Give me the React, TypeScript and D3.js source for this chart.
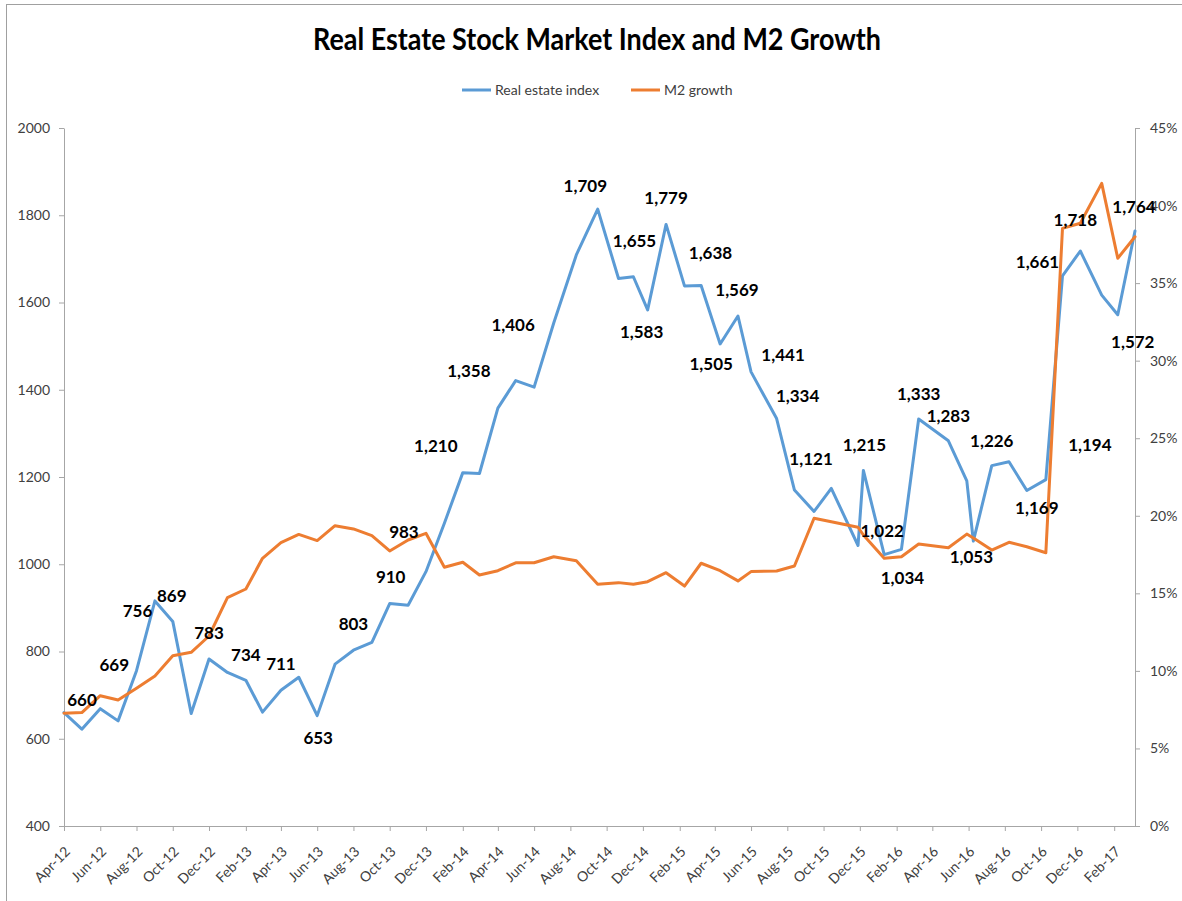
import * as d3 from "d3";
import { useEffect, useRef } from "react";

// observation dates (Excel date axis, days base unit)
const dates = [
  "2012-04-01", "2012-05-01", "2012-06-01", "2012-07-01", "2012-08-01", "2012-09-01",
  "2012-10-01", "2012-11-01", "2012-12-01", "2013-01-01", "2013-02-01", "2013-03-01",
  "2013-04-01", "2013-05-01", "2013-06-01", "2013-07-01", "2013-08-01", "2013-09-01",
  "2013-10-01", "2013-11-01", "2013-12-01", "2014-01-01", "2014-02-01", "2014-03-01",
  "2014-04-01", "2014-05-01", "2014-06-01", "2014-07-04", "2014-08-11", "2014-09-16",
  "2014-10-21", "2014-11-15", "2014-12-09", "2015-01-09", "2015-02-09", "2015-03-09",
  "2015-04-10", "2015-05-10", "2015-06-01", "2015-07-14", "2015-08-13", "2015-09-15",
  "2015-10-14", "2015-11-28", "2015-12-07", "2016-01-11", "2016-02-09", "2016-03-09",
  "2016-04-28", "2016-05-29", "2016-06-09", "2016-07-10", "2016-08-08", "2016-09-07",
  "2016-10-09", "2016-11-06", "2016-12-06", "2017-01-11", "2017-02-07", "2017-03-08",
];

const realEstate = [
  660, 622, 669, 641, 756, 916, 869, 658, 783, 752, 734, 661,
  711, 741, 653, 771, 803, 821, 910, 906, 983, 1094, 1210, 1208,
  1358, 1421, 1406, 1553, 1709, 1814, 1655, 1659, 1583, 1779, 1638, 1639,
  1505, 1569, 1441, 1334, 1170, 1121, 1174, 1043, 1215, 1022, 1034, 1333,
  1283, 1191, 1053, 1226, 1235, 1169, 1194, 1661, 1718, 1617, 1572, 1764,
];

// M2 growth, percent
const m2Growth = [
  7.27, 7.31, 8.4, 8.12, 8.88, 9.67, 10.98, 11.2, 12.25, 14.72, 15.28, 17.26,
  18.27, 18.8, 18.4, 19.36, 19.15, 18.72, 17.73, 18.44, 18.87, 16.68, 17.0, 16.18,
  16.46, 16.97, 16.97, 17.36, 17.1, 15.58, 15.69, 15.58, 15.75, 16.33, 15.47, 16.94,
  16.46, 15.8, 16.4, 16.44, 16.76, 19.84, 19.62, 19.26, 18.76, 17.26, 17.36, 18.18,
  17.94, 18.82, 18.57, 17.79, 18.29, 18.0, 17.62, 38.53, 38.86, 41.43, 36.6, 37.99,
];

// which points carry a data label, and how far each label was dragged
const labeledPoints = [
  0, 2, 4, 6, 8, 10, 12, 14, 16, 18, 20, 22, 24, 26, 28, 30, 32, 33, 34,
  36, 37, 38, 39, 41, 44, 45, 46, 47, 48, 50, 51, 53, 54, 55, 56, 58, 59,
];
const labelShift = [
  [18, -13], [14, -44], [1, -60], [-1, -25], [0, -26], [0, -25], [0, -26], [1, 22],
  [0, -26], [1, -26], [-22, -40], [-27, -27], [-29, -37], [-21, -62], [9, -69],
  [16, -37], [-6, 22], [0, -26], [26, -33], [-9, 20], [-1, -26], [32, -17], [21, -22],
  [-3, -52], [1, -25], [-2, -24], [1, 29], [0, -25], [0, -25], [-2, 16], [0, -25],
  [10, 18], [44, -35], [-25, -14], [-5, -31], [15, 27], [-1, -24],
];

const leftTicks = [400, 600, 800, 1000, 1200, 1400, 1600, 1800, 2000];
const rightTicks = [0, 5, 10, 15, 20, 25, 30, 35, 40, 45];

const BLUE = "#5B9BD5";
const ORANGE = "#ED7D31";
const AXIS = "#a6a6a6";
const TEXT = "#404040";
const FONT = "Lato, 'Open Sans', sans-serif";

const App = () => {
  const ref = useRef<SVGSVGElement>(null);
  const width = 1182;
  const height = 901;

  useEffect(() => {
    const svg = d3.select(ref.current);
    svg.selectAll("*").remove();

    const left = 64, right = 1135, top = 128, bottom = 826;
    const parse = d3.timeParse("%Y-%m-%d");
    const when = dates.map((d) => parse(d) as Date);

    const x = d3.scaleTime().domain([when[0], when[when.length - 1]]).range([left, right]);
    const yL = d3.scaleLinear().domain([400, 2000]).range([bottom, top]);
    const yR = d3.scaleLinear().domain([0, 45]).range([bottom, top]);

    // chart border
    svg.append("rect")
      .attr("x", 6.5).attr("y", 4.5)
      .attr("width", 1300).attr("height", 1000)
      .attr("fill", "#fff").attr("stroke", "#a0a0a0");

    // title
    svg.append("text")
      .attr("x", 597).attr("y", 50)
      .attr("text-anchor", "middle")
      .attr("textLength", 568).attr("lengthAdjust", "spacingAndGlyphs")
      .style("font-family", FONT).style("font-weight", 700).style("font-size", "30px")
      .attr("fill", "#000")
      .text("Real Estate Stock Market Index and M2 Growth");

    // legend
    const legend = [
      { name: "Real estate index", color: BLUE, x0: 462 },
      { name: "M2 growth", color: ORANGE, x0: 631 },
    ];
    const lg = svg.append("g");
    legend.forEach((l) => {
      lg.append("line")
        .attr("x1", l.x0).attr("x2", l.x0 + 29).attr("y1", 90).attr("y2", 90)
        .attr("stroke", l.color).attr("stroke-width", 3);
      lg.append("text")
        .attr("x", l.x0 + 33).attr("y", 95)
        .style("font-family", FONT).style("font-size", "14px")
        .attr("fill", TEXT).text(l.name);
    });

    const styleAxis = (g: any) => {
      g.select(".domain").attr("stroke", AXIS);
      g.selectAll(".tick line").attr("stroke", AXIS);
      g.selectAll(".tick text")
        .attr("fill", TEXT)
        .style("font-family", FONT).style("font-size", "14px");
    };

    // left axis
    svg.append("g")
      .attr("transform", `translate(${left},0)`)
      .call(d3.axisLeft(yL).tickValues(leftTicks).tickSize(5).tickSizeOuter(0).tickPadding(9).tickFormat(d3.format("d")))
      .call(styleAxis);

    // right axis
    svg.append("g")
      .attr("transform", `translate(${right},0)`)
      .call(d3.axisRight(yR).tickValues(rightTicks).tickSize(5).tickSizeOuter(0).tickPadding(10).tickFormat((d: any) => d + "%"))
      .call(styleAxis);

    // bottom axis, a label every two months
    const xTicks = d3.timeMonth.range(when[0], when[when.length - 1], 2);
    const xa = svg.append("g")
      .attr("transform", `translate(0,${bottom})`)
      .call(d3.axisBottom(x).tickValues(xTicks).tickSize(5).tickSizeOuter(0).tickFormat(d3.timeFormat("%b-%y") as any))
      .call(styleAxis);
    xa.select(".domain").attr("d", `M${left},0.5H${right}`);
    xa.selectAll(".tick text")
      .attr("x", 0).attr("y", 0).attr("dy", "0.35em")
      .attr("text-anchor", "end")
      .attr("transform", "translate(3,23) rotate(-45)");

    // series
    const lineL = d3.line<number>()
      .x((_, i) => x(when[i]))
      .y((d) => yL(d));
    const lineR = d3.line<number>()
      .x((_, i) => x(when[i]))
      .y((d) => yR(d));

    svg.append("path")
      .datum(realEstate)
      .attr("d", lineL)
      .attr("fill", "none").attr("stroke", BLUE)
      .attr("stroke-width", 3).attr("stroke-linejoin", "round").attr("stroke-linecap", "round");

    svg.append("path")
      .datum(m2Growth)
      .attr("d", lineR)
      .attr("fill", "none").attr("stroke", ORANGE)
      .attr("stroke-width", 3).attr("stroke-linejoin", "round").attr("stroke-linecap", "round");

    // data labels
    const fmt = d3.format(",");
    svg.append("g")
      .selectAll("text")
      .data(labeledPoints)
      .enter()
      .append("text")
      .attr("x", (d, k) => x(when[d]) + labelShift[k][0])
      .attr("y", (d, k) => yL(realEstate[d]) + labelShift[k][1])
      .attr("dy", "0.35em")
      .attr("text-anchor", "middle")
      .style("font-family", FONT).style("font-weight", 700).style("font-size", "17px")
      .attr("fill", "#000")
      .text((d) => fmt(realEstate[d]));
  }, []);

  return (
    <svg
      ref={ref}
      width={width}
      height={height}
      style={{ position: "absolute", left: 0, top: 0, display: "block" }}
    />
  );
};

export default App;
